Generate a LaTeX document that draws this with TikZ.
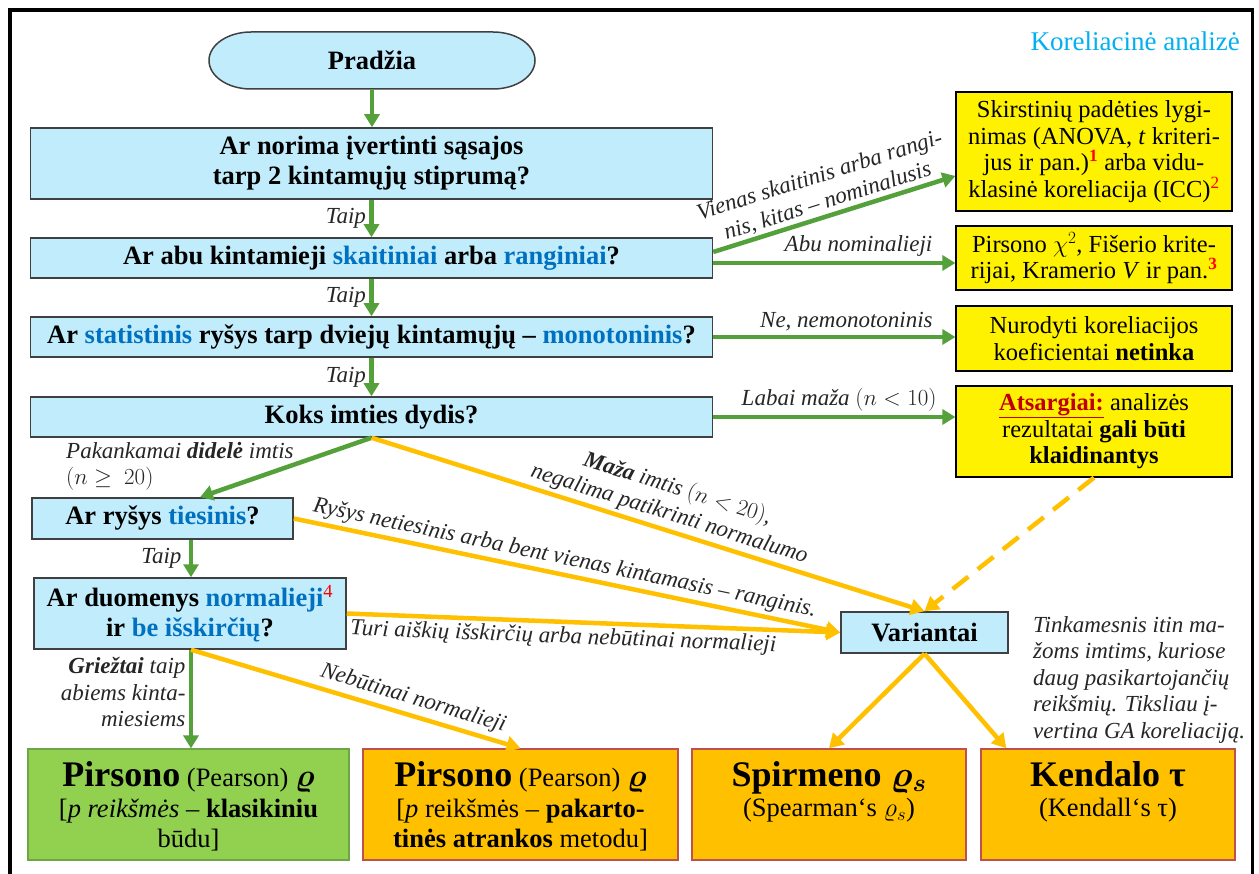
\RequirePackage{fix-cm}
\documentclass[tikz,border=0pt]{standalone}
\usepackage{fontspec}
\setmainfont{Liberation Serif}
\usetikzlibrary{arrows.meta}
\definecolor{lblue}{RGB}{192,236,251}
\definecolor{tblue}{RGB}{0,112,192}
\definecolor{grn}{RGB}{84,160,58}
\definecolor{orng}{RGB}{255,192,0}
\definecolor{ttl}{RGB}{0,176,240}
\definecolor{dred}{RGB}{192,0,0}
\definecolor{boxgreen}{RGB}{146,208,80}
\definecolor{bord}{RGB}{64,64,64}
\definecolor{oborder}{RGB}{192,80,77}
\definecolor{gborder}{RGB}{110,165,70}
\newcommand{\RedSup}[1]{\textsuperscript{\textcolor{red}{\bfseries #1}}}
\newcommand{\BigFnt}{\fontsize{36}{40}\selectfont}
\newcommand{\RhoFnt}{\fontsize{32}{34}\selectfont}
\tikzset{
  qbox/.style={draw=bord, line width=1.5pt, fill=lblue, inner sep=0pt, align=center,
    font=\fontsize{26.5}{30}\selectfont\bfseries},
  ybox/.style={draw=black, line width=1.3pt, fill=yellow, inner sep=0pt, align=center,
    minimum width=276pt, font=\fontsize{24.5}{26.5}\selectfont},
  rbox/.style={draw=oborder, line width=1.5pt, fill=orng, minimum height=111pt, inner sep=0pt},
  rtext/.style={anchor=north, align=center, inner sep=0pt, font=\fontsize{26.5}{30}\selectfont},
  garrow/.style={draw=grn, line width=4.5pt, -{Triangle[length=13pt,width=15pt]}},
  oarrow/.style={draw=orng, line width=4.5pt, -{Triangle[length=14pt,width=16pt]}},
  lbl/.style={font=\fontsize{23}{26.5}\selectfont\itshape, text=black!85}
}
\begin{document}
\begin{tikzpicture}[x=1pt,y=-1pt]
\useasboundingbox (0,0) rectangle (1259,874);
\fill[white] (0,0) rectangle (1259,874);
\draw[line width=3.5pt] (10,890) -- (10,10) -- (1252.5,10) -- (1252.5,890);

\node[anchor=east, inner sep=0pt, font=\fontsize{27}{30}\selectfont, text=ttl] (title) at (1240,41) {Koreliacinė analizė};

% start terminator
\draw[draw=bord, line width=1.5pt, fill=lblue] (251,32) -- (493,32)
  arc[start angle=90, end angle=-90, x radius=42pt, y radius=28.5pt] -- (251,89)
  arc[start angle=270, end angle=90, x radius=42pt, y radius=28.5pt] -- cycle;
\node[minimum width=326pt, minimum height=57pt, inner sep=0pt, font=\fontsize{26.5}{30}\selectfont\bfseries] (start) at (372,60.5) {Pradžia};

% questions
\node[qbox, minimum width=682pt, minimum height=71pt] (q1) at (371.5,163.5) {Ar norima įvertinti sąsajos\\tarp 2 kintamųjų stiprumą?};
\node[qbox, minimum width=682pt, minimum height=40pt] (q2) at (371.5,258) {Ar abu kintamieji \textcolor{tblue}{skaitiniai} arba \textcolor{tblue}{ranginiai}?};
\node[qbox, minimum width=682pt, minimum height=40pt] (q3) at (371.5,337) {Ar \textcolor{tblue}{statistinis} ryšys tarp dviejų kintamųjų – \textcolor{tblue}{monotoninis}?};
\node[qbox, minimum width=682pt, minimum height=40pt] (q4) at (371.5,417) {Koks imties dydis?};
\node[qbox, minimum width=261pt, minimum height=41pt] (q5) at (162.5,518.5) {Ar ryšys \textcolor{tblue}{tiesinis}?};
\node[qbox, minimum width=312pt, minimum height=71pt] (q6) at (190,613.5) {Ar duomenys \textcolor{tblue}{normalieji}\textsuperscript{\textcolor{red}{\mdseries 4}}\\ir \textcolor{tblue}{be išskirčių}?};
\node[qbox, minimum width=167pt, minimum height=41pt] (var) at (924.5,632.5) {Variantai};

% yellow boxes
\node[ybox, minimum height=119pt] (y1) at (1094,151.5) {Skirstinių padėties lygi-\\nimas (ANOVA, \textit{t} kriteri-\\jus ir pan.)\RedSup{1} arba vidu-\\klasinė koreliacija (ICC)\textsuperscript{\textcolor{red}{2}}};
\node[ybox, minimum height=64pt] (y2) at (1094,258) {Pirsono $\chi^2$, Fišerio krite-\\rijai, Kramerio \textit{V} ir pan.\RedSup{3}};
\node[ybox, minimum height=65pt] (y3) at (1094,338.5) {Nurodyti koreliacijos\\koeficientai \textbf{netinka}};
\node[ybox, minimum height=91pt] (y4) at (1094,431.5) {\textcolor{dred}{\bfseries\underline{Atsargiai:}} analizės\\rezultatai \textbf{gali būti}\\\textbf{klaidinantys}};

% result boxes
\node[draw=gborder, line width=1.2pt, fill=boxgreen, minimum width=321pt, minimum height=111pt, inner sep=0pt] (r1) at (188.5,804.5) {};
\node[rbox, minimum width=315pt] (r2) at (520.5,804.5) {};
\node[rbox, minimum width=274pt] (r3) at (829,804.5) {};
\node[rbox, minimum width=254pt] (r4) at (1108,804.5) {};
\node[rtext] (r1t) at ([yshift=-13pt]r1.north) {{\BigFnt\bfseries Pirsono} (Pearson) {\RhoFnt\boldmath$\varrho$}\\[1pt]{[}\textit{p reikšmės} – \textbf{klasikiniu}\\būdu]};
\node[rtext] (r2t) at ([yshift=-13pt]r2.north) {{\BigFnt\bfseries Pirsono} (Pearson) {\RhoFnt\boldmath$\varrho$}\\[1pt]{[}\textit{p} reikšmės – \textbf{pakarto-}\\\textbf{tinės atrankos} metodu]};
\node[rtext] (r3t) at ([yshift=-13pt]r3.north) {{\BigFnt\bfseries Spirmeno {\boldmath$\varrho_s$}}\\(Spearman‘s $\varrho_s$)};
\node[rtext] (r4t) at ([yshift=-13pt]r4.north) {{\BigFnt\bfseries Kendalo τ}\\(Kendall‘s τ)};

% note
\node[lbl, anchor=north west, align=left, inner sep=0pt] (note) at (1033,616) {Tinkamesnis itin ma-\\žoms imtims, kuriose\\daug pasikartojančių\\reikšmių. Tiksliau į-\\vertina GA koreliaciją.};

% green flow
\draw[garrow] (start.south) -- (start.south |- q1.north);
\draw[garrow] (q1.south) -- node[lbl, left] (t1) {Taip} (q2.north);
\draw[garrow] (q2.south) -- node[lbl, left] (t2) {Taip} (q3.north);
\draw[garrow] (q3.south) -- node[lbl, left] (t3) {Taip} (q4.north);
\draw[garrow] (q4.south) -- ([xshift=37.5pt]q5.north);
\node[lbl, anchor=north west, align=left, inner sep=0pt] (lbig) at (66,442) {Pakankamai \textbf{didelė} imtis\\$(n\geq\ 20)$};
\draw[garrow] ([xshift=1pt]q6.north |- q5.south) -- node[lbl, left, xshift=-4pt] (t4) {Taip} ([xshift=1pt]q6.north);
\draw[garrow] ([xshift=1pt]q6.south) -- node[lbl, left, align=right, pos=0.43] (lgr) {\textbf{Griežtai} taip\\abiems kinta-\\miesiems} ([xshift=1pt]q6.south |- r1.north);

% to yellow boxes
\draw[garrow] ([yshift=6pt]q2.east) -- node[lbl, above, sloped, align=center, inner sep=2pt, pos=0.49] (lvien) {Vienas skaitinis arba rangi-\\nis, kitas – nominalusis} ([yshift=-24.5pt]y1.west);
\coordinate (q2b) at ([yshift=-5pt]q2.east);
\draw[garrow] (q2b) -- node[lbl, above, pos=0.6, inner sep=4pt] (labu) {Abu nominalieji} (q2b -| y2.west);
\draw[garrow] (q3.east) -- node[lbl, above, pos=0.55, inner sep=4pt] (lne) {Ne, nemonotoninis} (q3.east -| y3.west);
\draw[garrow] (q4.east) -- node[lbl, above, pos=0.52, inner sep=4pt] (llab) {Labai maža $(n<10)$} (q4.east -| y4.west);

% orange flow
\draw[oarrow] ([xshift=1pt]q6.south) -- node[lbl, above, sloped, pos=0.66, inner sep=4pt] (lneb) {Nebūtinai normalieji} (r2.north);
\draw[oarrow] (q4.south) -- node[lbl, above, sloped, pos=0.53, align=center, inner sep=3pt] (lmaza) {\textbf{Maža} imtis $(n<20)$,\\negalima patikrinti normalumo} (var.north);
\draw[oarrow] (q5.east) -- node[lbl, above, sloped, pos=0.49, inner sep=3pt] (lrys) {Ryšys netiesinis arba bent vienas kintamasis – ranginis.} (var.west);
\draw[oarrow] (q6.east) -- node[lbl, below, sloped, pos=0.44, inner sep=3pt] (lturi) {Turi aiškių išskirčių arba nebūtinai normalieji} (var.west);
\draw[oarrow, dash pattern=on 20pt off 12pt] (y4.south) -- (var.north);
\draw[oarrow] (var.south) -- (r3.north);
\draw[oarrow] (var.south) -- ([xshift=26pt]r4.north west);
\end{tikzpicture}
\end{document}
